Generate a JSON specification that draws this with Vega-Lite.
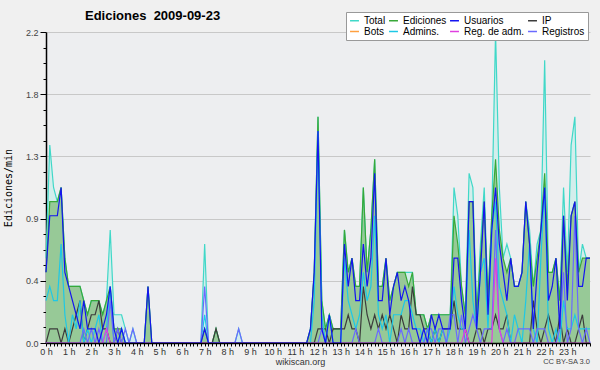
{
 "$schema": "https://vega.github.io/schema/vega-lite/v6.json",
 "width": 544, "height": 311,
 "autosize": {"type": "none"},
 "padding": {"left": 46, "top": 32, "right": 10, "bottom": 27},
 "background": "#f0f0f0",
 "config": {"view": {"fill": "#edeef0", "stroke": null}, "font": "Liberation Sans"},
 "title": {"text": "Ediciones\u00a0 2009-09-23", "anchor": "start", "frame": "group", "dx": 39, "dy": 20, "offset": 9, "font": "Liberation Sans", "fontSize": 13, "fontWeight": "bold", "color": "#000"},
 "data": {"values": [
{"m":0,"T":0.6,"E":0.5,"U":0.5,"I":0,"A":0.3,"RA":0,"R":0},
{"m":10,"T":1.4,"E":1.0,"U":0.9,"I":0.1,"A":0.4,"RA":0,"R":0},
{"m":20,"T":1.1,"E":1.0,"U":0.9,"I":0.1,"A":0.3,"RA":0,"R":0},
{"m":30,"T":1.0,"E":1.0,"U":0.9,"I":0.1,"A":0.3,"RA":0,"R":0},
{"m":40,"T":1.1,"E":1.1,"U":1.1,"I":0,"A":0.7,"RA":0,"R":0},
{"m":50,"T":0.6,"E":0.6,"U":0.5,"I":0.1,"A":0.2,"RA":0,"R":0},
{"m":60,"T":0.4,"E":0.4,"U":0.4,"I":0,"A":0,"RA":0,"R":0},
{"m":70,"T":0.4,"E":0.4,"U":0.3,"I":0.1,"A":0.2,"RA":0,"R":0},
{"m":80,"T":0.4,"E":0.4,"U":0.2,"I":0.2,"A":0.1,"RA":0,"R":0},
{"m":90,"T":0.4,"E":0.4,"U":0.1,"I":0.3,"A":0.3,"RA":0,"R":0},
{"m":100,"T":0.3,"E":0.3,"U":0.3,"I":0,"A":0,"RA":0,"R":0.1},
{"m":110,"T":0.2,"E":0.2,"U":0.1,"I":0.1,"A":0.1,"RA":0,"R":0},
{"m":120,"T":0.3,"E":0.3,"U":0.1,"I":0.2,"A":0,"RA":0,"R":0.1},
{"m":130,"T":0.3,"E":0.3,"U":0.1,"I":0.2,"A":0.1,"RA":0,"R":0},
{"m":140,"T":0.3,"E":0.3,"U":0,"I":0.3,"A":0.2,"RA":0,"R":0.1},
{"m":150,"T":0.2,"E":0.2,"U":0.1,"I":0.1,"A":0,"RA":0,"R":0},
{"m":160,"T":0.3,"E":0.3,"U":0.2,"I":0.1,"A":0.1,"RA":0.1,"R":0},
{"m":170,"T":0.8,"E":0.4,"U":0.4,"I":0,"A":0.4,"RA":0,"R":0.3},
{"m":180,"T":0.2,"E":0.1,"U":0.1,"I":0,"A":0,"RA":0,"R":0},
{"m":190,"T":0.2,"E":0.1,"U":0,"I":0.1,"A":0,"RA":0,"R":0.1},
{"m":200,"T":0.2,"E":0.1,"U":0.1,"I":0,"A":0.1,"RA":0,"R":0},
{"m":210,"T":0.1,"E":0,"U":0,"I":0,"A":0,"RA":0,"R":0.1},
{"m":220,"T":0,"E":0,"U":0,"I":0,"A":0,"RA":0,"R":0},
{"m":230,"T":0.1,"E":0,"U":0,"I":0,"A":0,"RA":0,"R":0.1},
{"m":240,"T":0,"E":0,"U":0,"I":0,"A":0,"RA":0,"R":0},
{"m":250,"T":0,"E":0,"U":0,"I":0,"A":0,"RA":0,"R":0},
{"m":260,"T":0,"E":0,"U":0,"I":0,"A":0,"RA":0,"R":0},
{"m":270,"T":0.4,"E":0.4,"U":0.4,"I":0,"A":0,"RA":0,"R":0},
{"m":280,"T":0,"E":0,"U":0,"I":0,"A":0,"RA":0,"R":0},
{"m":290,"T":0,"E":0,"U":0,"I":0,"A":0,"RA":0,"R":0},
{"m":300,"T":0,"E":0,"U":0,"I":0,"A":0,"RA":0,"R":0},
{"m":310,"T":0,"E":0,"U":0,"I":0,"A":0,"RA":0,"R":0},
{"m":320,"T":0,"E":0,"U":0,"I":0,"A":0,"RA":0,"R":0},
{"m":330,"T":0,"E":0,"U":0,"I":0,"A":0,"RA":0,"R":0},
{"m":340,"T":0,"E":0,"U":0,"I":0,"A":0,"RA":0,"R":0},
{"m":350,"T":0,"E":0,"U":0,"I":0,"A":0,"RA":0,"R":0},
{"m":360,"T":0,"E":0,"U":0,"I":0,"A":0,"RA":0,"R":0},
{"m":370,"T":0,"E":0,"U":0,"I":0,"A":0,"RA":0,"R":0},
{"m":380,"T":0,"E":0,"U":0,"I":0,"A":0,"RA":0,"R":0},
{"m":390,"T":0,"E":0,"U":0,"I":0,"A":0,"RA":0,"R":0},
{"m":400,"T":0,"E":0,"U":0,"I":0,"A":0,"RA":0,"R":0},
{"m":410,"T":0,"E":0,"U":0,"I":0,"A":0,"RA":0,"R":0},
{"m":420,"T":0.7,"E":0.1,"U":0.1,"I":0,"A":0.2,"RA":0,"R":0.4},
{"m":430,"T":0,"E":0,"U":0,"I":0,"A":0,"RA":0,"R":0},
{"m":440,"T":0,"E":0,"U":0,"I":0,"A":0,"RA":0,"R":0},
{"m":450,"T":0.1,"E":0.1,"U":0,"I":0.1,"A":0,"RA":0,"R":0},
{"m":460,"T":0,"E":0,"U":0,"I":0,"A":0,"RA":0,"R":0},
{"m":470,"T":0,"E":0,"U":0,"I":0,"A":0,"RA":0,"R":0},
{"m":480,"T":0,"E":0,"U":0,"I":0,"A":0,"RA":0,"R":0},
{"m":490,"T":0,"E":0,"U":0,"I":0,"A":0,"RA":0,"R":0},
{"m":500,"T":0,"E":0,"U":0,"I":0,"A":0,"RA":0,"R":0},
{"m":510,"T":0.1,"E":0,"U":0,"I":0,"A":0,"RA":0,"R":0.1},
{"m":520,"T":0,"E":0,"U":0,"I":0,"A":0,"RA":0,"R":0},
{"m":530,"T":0,"E":0,"U":0,"I":0,"A":0,"RA":0,"R":0},
{"m":540,"T":0,"E":0,"U":0,"I":0,"A":0,"RA":0,"R":0},
{"m":550,"T":0,"E":0,"U":0,"I":0,"A":0,"RA":0,"R":0},
{"m":560,"T":0,"E":0,"U":0,"I":0,"A":0,"RA":0,"R":0},
{"m":570,"T":0,"E":0,"U":0,"I":0,"A":0,"RA":0,"R":0},
{"m":580,"T":0,"E":0,"U":0,"I":0,"A":0,"RA":0,"R":0},
{"m":590,"T":0,"E":0,"U":0,"I":0,"A":0,"RA":0,"R":0},
{"m":600,"T":0,"E":0,"U":0,"I":0,"A":0,"RA":0,"R":0},
{"m":610,"T":0,"E":0,"U":0,"I":0,"A":0,"RA":0,"R":0},
{"m":620,"T":0,"E":0,"U":0,"I":0,"A":0,"RA":0,"R":0},
{"m":630,"T":0,"E":0,"U":0,"I":0,"A":0,"RA":0,"R":0},
{"m":640,"T":0,"E":0,"U":0,"I":0,"A":0,"RA":0,"R":0},
{"m":650,"T":0,"E":0,"U":0,"I":0,"A":0,"RA":0,"R":0},
{"m":660,"T":0,"E":0,"U":0,"I":0,"A":0,"RA":0,"R":0},
{"m":670,"T":0,"E":0,"U":0,"I":0,"A":0,"RA":0,"R":0},
{"m":680,"T":0,"E":0,"U":0,"I":0,"A":0,"RA":0,"R":0},
{"m":690,"T":0,"E":0,"U":0,"I":0,"A":0,"RA":0,"R":0},
{"m":700,"T":0.1,"E":0.1,"U":0.1,"I":0,"A":0,"RA":0,"R":0},
{"m":710,"T":0.5,"E":0.5,"U":0.5,"I":0,"A":0.3,"RA":0,"R":0},
{"m":720,"T":1.6,"E":1.6,"U":1.5,"I":0.1,"A":1.5,"RA":0,"R":0},
{"m":730,"T":0.3,"E":0.3,"U":0.1,"I":0.1,"A":0.2,"RA":0,"R":0.1},
{"m":740,"T":0.1,"E":0.1,"U":0,"I":0.1,"A":0,"RA":0,"R":0},
{"m":750,"T":0.2,"E":0.2,"U":0.2,"I":0,"A":0.2,"RA":0,"R":0},
{"m":760,"T":0.1,"E":0.1,"U":0,"I":0.1,"A":0,"RA":0,"R":0},
{"m":770,"T":0.1,"E":0.1,"U":0,"I":0.1,"A":0,"RA":0,"R":0},
{"m":780,"T":0.1,"E":0.1,"U":0,"I":0.1,"A":0,"RA":0,"R":0},
{"m":790,"T":0.8,"E":0.8,"U":0.7,"I":0.1,"A":0.6,"RA":0,"R":0},
{"m":800,"T":0.5,"E":0.5,"U":0.4,"I":0.2,"A":0.3,"RA":0,"R":0},
{"m":810,"T":0.6,"E":0.6,"U":0.6,"I":0.1,"A":0.2,"RA":0,"R":0},
{"m":820,"T":0.4,"E":0.4,"U":0.3,"I":0.1,"A":0.1,"RA":0,"R":0.1},
{"m":830,"T":0.4,"E":0.4,"U":0.3,"I":0,"A":0.2,"RA":0,"R":0},
{"m":840,"T":1.1,"E":1.1,"U":0.7,"I":0.4,"A":0.5,"RA":0,"R":0},
{"m":850,"T":0.5,"E":0.5,"U":0.4,"I":0.2,"A":0.3,"RA":0,"R":0},
{"m":860,"T":0.8,"E":0.8,"U":0.6,"I":0.1,"A":0.4,"RA":0,"R":0},
{"m":870,"T":1.3,"E":1.3,"U":1.2,"I":0.2,"A":0.9,"RA":0,"R":0},
{"m":880,"T":0.4,"E":0.4,"U":0.3,"I":0.1,"A":0.2,"RA":0,"R":0.1},
{"m":890,"T":0.4,"E":0.4,"U":0.3,"I":0.2,"A":0.1,"RA":0,"R":0},
{"m":900,"T":0.6,"E":0.6,"U":0.6,"I":0.1,"A":0.2,"RA":0,"R":0},
{"m":910,"T":0.3,"E":0.3,"U":0.2,"I":0.2,"A":0,"RA":0,"R":0},
{"m":920,"T":0.4,"E":0.4,"U":0.4,"I":0.1,"A":0.2,"RA":0,"R":0},
{"m":930,"T":0.5,"E":0.5,"U":0.5,"I":0,"A":0.2,"RA":0,"R":0},
{"m":940,"T":0.5,"E":0.5,"U":0.3,"I":0.2,"A":0.2,"RA":0,"R":0.1},
{"m":950,"T":0.5,"E":0.5,"U":0.4,"I":0.1,"A":0.3,"RA":0,"R":0},
{"m":960,"T":0.5,"E":0.4,"U":0.3,"I":0.1,"A":0.3,"RA":0,"R":0.1},
{"m":970,"T":0.5,"E":0.5,"U":0.1,"I":0.4,"A":0.2,"RA":0,"R":0},
{"m":980,"T":0.2,"E":0.2,"U":0.1,"I":0.2,"A":0.1,"RA":0,"R":0},
{"m":990,"T":0.2,"E":0.2,"U":0,"I":0.2,"A":0.1,"RA":0,"R":0},
{"m":1000,"T":0.2,"E":0.2,"U":0.1,"I":0.1,"A":0,"RA":0,"R":0},
{"m":1010,"T":0.1,"E":0.1,"U":0,"I":0.1,"A":0.1,"RA":0,"R":0.1},
{"m":1020,"T":0.2,"E":0.2,"U":0.2,"I":0,"A":0,"RA":0,"R":0.1},
{"m":1030,"T":0.2,"E":0.2,"U":0.1,"I":0.1,"A":0.1,"RA":0,"R":0},
{"m":1040,"T":0.2,"E":0.2,"U":0.2,"I":0,"A":0,"RA":0,"R":0.1},
{"m":1050,"T":0.2,"E":0.2,"U":0.1,"I":0.1,"A":0.1,"RA":0,"R":0.1},
{"m":1060,"T":0.2,"E":0.2,"U":0.1,"I":0.1,"A":0,"RA":0,"R":0},
{"m":1070,"T":0.2,"E":0.2,"U":0.1,"I":0.1,"A":0.1,"RA":0,"R":0.2},
{"m":1080,"T":1.1,"E":0.9,"U":0.6,"I":0.3,"A":0.4,"RA":0,"R":0.2},
{"m":1090,"T":0.9,"E":0.7,"U":0.6,"I":0.1,"A":0.2,"RA":0,"R":0},
{"m":1100,"T":0.4,"E":0.4,"U":0.3,"I":0.1,"A":0.1,"RA":0,"R":0.2},
{"m":1110,"T":0.2,"E":0.2,"U":0.1,"I":0.1,"A":0.1,"RA":0.1,"R":0},
{"m":1120,"T":1.2,"E":1.0,"U":1.0,"I":0,"A":0.8,"RA":0,"R":0.1},
{"m":1130,"T":1.1,"E":1.0,"U":1.0,"I":0,"A":0.3,"RA":0,"R":0.2},
{"m":1140,"T":0.2,"E":0.2,"U":0.1,"I":0.1,"A":0.1,"RA":0,"R":0.1},
{"m":1150,"T":0.7,"E":0.6,"U":0.5,"I":0.1,"A":0.5,"RA":0,"R":0},
{"m":1160,"T":1.1,"E":1.0,"U":1.0,"I":0,"A":0.6,"RA":0,"R":0.1},
{"m":1170,"T":0.3,"E":0.3,"U":0.2,"I":0.1,"A":0.1,"RA":0,"R":0.1},
{"m":1180,"T":0.9,"E":0.9,"U":0.8,"I":0.1,"A":0.8,"RA":0,"R":0.1},
{"m":1190,"T":2.2,"E":1.3,"U":1.1,"I":0.2,"A":1.0,"RA":0.6,"R":0.8},
{"m":1200,"T":1.1,"E":0.8,"U":0.7,"I":0.1,"A":0.4,"RA":0.1,"R":0.1},
{"m":1210,"T":0.6,"E":0.6,"U":0.5,"I":0.1,"A":0.3,"RA":0,"R":0},
{"m":1220,"T":0.7,"E":0.5,"U":0.3,"I":0.2,"A":0.2,"RA":0,"R":0.1},
{"m":1230,"T":0.6,"E":0.6,"U":0.6,"I":0,"A":0,"RA":0,"R":0},
{"m":1240,"T":0.4,"E":0.4,"U":0.4,"I":0,"A":0.2,"RA":0,"R":0},
{"m":1250,"T":0.4,"E":0.4,"U":0.4,"I":0,"A":0.1,"RA":0,"R":0.1},
{"m":1260,"T":0.5,"E":0.5,"U":0.5,"I":0,"A":0,"RA":0,"R":0.1},
{"m":1270,"T":1.0,"E":1.0,"U":1.0,"I":0,"A":0.3,"RA":0,"R":0.1},
{"m":1280,"T":0.8,"E":0.7,"U":0.7,"I":0,"A":0.7,"RA":0,"R":0.1},
{"m":1290,"T":0.4,"E":0.4,"U":0.1,"I":0.3,"A":0.1,"RA":0,"R":0},
{"m":1300,"T":0.7,"E":0.6,"U":0.5,"I":0.1,"A":0,"RA":0,"R":0.1},
{"m":1310,"T":0.8,"E":0.8,"U":0.8,"I":0,"A":0.6,"RA":0,"R":0.1},
{"m":1320,"T":2.0,"E":1.2,"U":1.1,"I":0.1,"A":1.1,"RA":0,"R":0.1},
{"m":1330,"T":0.5,"E":0.5,"U":0.3,"I":0.2,"A":0.1,"RA":0,"R":0},
{"m":1340,"T":0.5,"E":0.5,"U":0.4,"I":0.1,"A":0,"RA":0,"R":0},
{"m":1350,"T":0.6,"E":0.6,"U":0.6,"I":0,"A":0.1,"RA":0,"R":0},
{"m":1360,"T":0.3,"E":0.3,"U":0.1,"I":0.2,"A":0,"RA":0,"R":0.1},
{"m":1370,"T":1.1,"E":0.9,"U":0.9,"I":0,"A":0.3,"RA":0,"R":0.5},
{"m":1380,"T":0.5,"E":0.4,"U":0.3,"I":0.1,"A":0.1,"RA":0,"R":0},
{"m":1390,"T":1.4,"E":0.9,"U":0.9,"I":0,"A":0.1,"RA":0,"R":0.1},
{"m":1400,"T":1.6,"E":1.0,"U":1.0,"I":0,"A":0.2,"RA":0,"R":0.9},
{"m":1410,"T":0.5,"E":0.5,"U":0.4,"I":0.1,"A":0.1,"RA":0,"R":0.1},
{"m":1420,"T":0.7,"E":0.6,"U":0.4,"I":0.2,"A":0.1,"RA":0,"R":0},
{"m":1430,"T":0.6,"E":0.6,"U":0.6,"I":0,"A":0.1,"RA":0,"R":0.1},
{"m":1440,"T":0.6,"E":0.6,"U":0.6,"I":0,"A":0.1,"RA":0,"R":0}
 ]},
 "transform": [{"fold": ["T","E","I","A","R","RA","U"], "as": ["k","v"]}],
 "encoding": {
  "x": {"field": "m", "type": "quantitative", "scale": {"domain": [0, 1440], "nice": false, "zero": false},
   "axis": {
    "values": [0,10,20,30,40,50,60,70,80,90,100,110,120,130,140,150,160,170,180,190,200,210,220,230,240,250,260,270,280,290,300,310,320,330,340,350,360,370,380,390,400,410,420,430,440,450,460,470,480,490,500,510,520,530,540,550,560,570,580,590,600,610,620,630,640,650,660,670,680,690,700,710,720,730,740,750,760,770,780,790,800,810,820,830,840,850,860,870,880,890,900,910,920,930,940,950,960,970,980,990,1000,1010,1020,1030,1040,1050,1060,1070,1080,1090,1100,1110,1120,1130,1140,1150,1160,1170,1180,1190,1200,1210,1220,1230,1240,1250,1260,1270,1280,1290,1300,1310,1320,1330,1340,1350,1360,1370,1380,1390,1400,1410,1420,1430,1440],
    "labelExpr": "datum.value % 60 === 0 && datum.value < 1440 ? (datum.value / 60) + ' h' : ''",
    "tickSize": 3,
    "tickColor": "#000",
    "domainColor": "#000", "domainWidth": 1.5,
    "labelFont": "Liberation Sans", "labelFontSize": 9, "labelColor": "#333", "labelPadding": 1,
    "labelOverlap": false, "labelBound": false, "labelFlush": false,
    "grid": false,
    "title": "wikiscan.org", "titleFont": "Liberation Sans", "titleFontSize": 9, "titleFontWeight": "normal", "titleColor": "#333",
    "titleX": 254, "titleY": 21, "titleBaseline": "alphabetic",
    "zindex": 1
   }},
  "y": {"field": "v", "type": "quantitative", "scale": {"domain": [0, 2.2], "nice": false},
   "axis": {
    "values": [0,0.11,0.22,0.33,0.44,0.55,0.66,0.77,0.88,0.99,1.1,1.21,1.32,1.43,1.54,1.65,1.76,1.87,1.98,2.09,2.2],
    "labelExpr": "round(datum.value / 0.11) % 4 === 0 ? format(datum.value, '.1f') : ''",
    "tickSize": {"condition": {"test": "round(datum.value / 0.11) % 4 === 0", "value": 6}, "value": 3},
    "tickColor": "#000",
    "grid": true,
    "gridColor": {"condition": {"test": "round(datum.value / 0.11) % 4 === 0", "value": "#c8c8c8"}, "value": "transparent"},
    "domainColor": "#000", "domainWidth": 1.5,
    "labelFont": "Liberation Sans", "labelFontSize": 9, "labelColor": "#444", "labelPadding": 2,
    "labelOverlap": false, "labelBound": false, "labelFlush": false,
    "title": "Ediciones/min", "titleFont": "DejaVu Sans Mono", "titleFontSize": 10, "titleFontWeight": "normal", "titleColor": "#000",
    "titlePadding": 12
   }}
 },
 "layer": [
  {"transform": [{"filter": "datum.k === 'T'"}],
   "mark": {"type": "area", "color": "#d3eeec", "opacity": 1}},
  {"transform": [{"filter": "datum.k === 'E'"}],
   "mark": {"type": "area", "color": "#97c997", "opacity": 1}},
  {"mark": {"type": "line", "strokeWidth": 1.2},
   "encoding": {"color": {"field": "k", "type": "nominal",
     "scale": {"domain": ["T","E","U","I","B","A","RA","R"], "range": ["#40d8c8","#38a838","#1414f0","#3c3c3c","#ffa040","#1ec8e6","#e040e0","#6a6aff"]},
     "legend": {"orient": "none", "legendX": 300, "legendY": -20, "direction": "horizontal", "columns": 4,
      "title": null, "symbolType": "stroke", "symbolSize": 80, "symbolStrokeWidth": 1.5,
      "labelFont": "Liberation Sans", "labelFontSize": 10, "labelColor": "#000", "labelOffset": 4,
      "columnPadding": 0, "rowPadding": -1, "padding": 3, "fillColor": "#ffffff", "strokeColor": "#999999",
      "labelExpr": "datum.value === 'T' ? 'Total' : datum.value === 'E' ? 'Ediciones' : datum.value === 'U' ? 'Usuarios' : datum.value === 'I' ? 'IP' : datum.value === 'B' ? 'Bots' : datum.value === 'A' ? 'Admins.' : datum.value === 'RA' ? 'Reg. de adm.' : 'Registros'"}}}},
  {"transform": [{"filter": "datum.m === 1440 && datum.k === 'I'"}],
   "mark": {"type": "text", "align": "right", "baseline": "alphabetic", "dy": 21, "font": "Liberation Sans", "fontSize": 7.5, "color": "#444"},
   "encoding": {"text": {"value": "CC BY-SA 3.0"}}}
 ]
}
